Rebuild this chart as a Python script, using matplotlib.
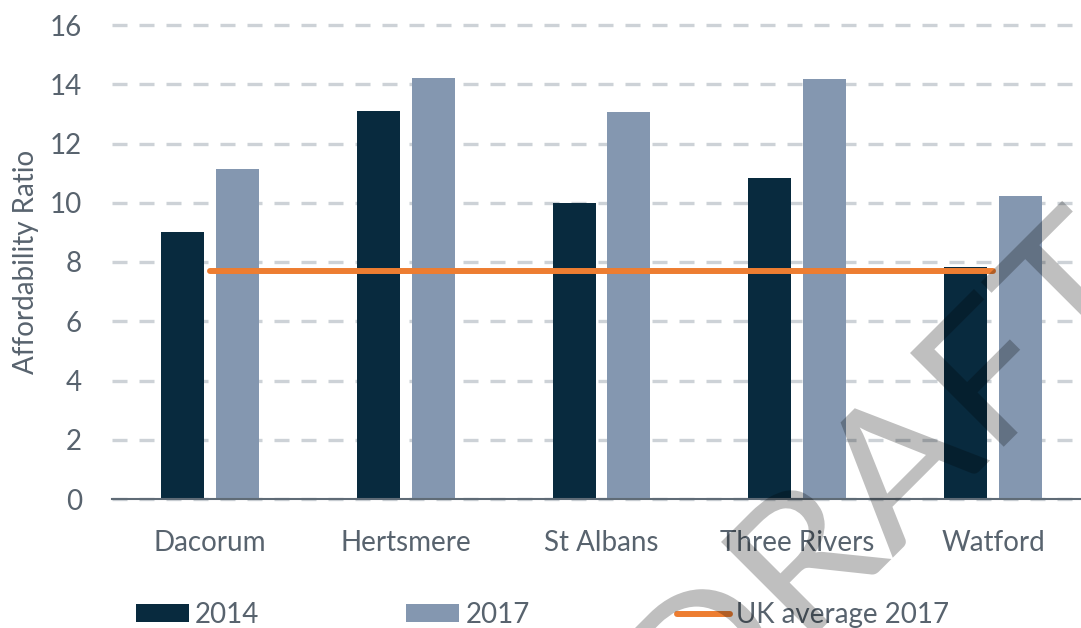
import matplotlib
matplotlib.use("Agg")
import numpy as np
import matplotlib.pyplot as plt
from matplotlib.patches import Patch, PathPatch
from matplotlib.lines import Line2D
from matplotlib.textpath import TextPath, TextToPath
from matplotlib.font_manager import FontProperties
from matplotlib.transforms import Affine2D

# data
districts = ["Dacorum", "Hertsmere", "St Albans", "Three Rivers", "Watford"]
ratio_2014 = [9.0, 13.1, 10.0, 10.85, 7.83]
ratio_2017 = [11.15, 14.22, 13.06, 14.18, 10.24]
uk_avg_2017 = [7.7, 7.7, 7.7, 7.7, 7.7]
yticks = [0, 2, 4, 6, 8, 10, 12, 14, 16]
series_names = ["2014", "2017", "UK average 2017"]

plt.rcParams["font.family"] = ["Lato", "DejaVu Sans"]

TXT = "#58636E"
DARK = "#082A3E"
LIGHT = "#8497B0"
ORANGE = "#ED7D31"
GRID = "#CDD2D7"

W, H = 1081, 628
fig = plt.figure(figsize=(W / 100, H / 100), dpi=100)
ax = fig.add_axes([112 / W, 129 / H, 979 / W, 474 / H])

x = np.arange(len(districts))
ax.bar(x - 0.14, ratio_2014, 0.22, color=DARK, zorder=2)
ax.bar(x + 0.14, ratio_2017, 0.22, color=LIGHT, zorder=2)
ax.plot(x, uk_avg_2017, color=ORANGE, lw=4.3, solid_capstyle="round", zorder=3)

ax.set_xlim(-0.5, 4.5)
ax.set_ylim(0, 16)
ax.set_yticks(yticks)
ax.set_xticks(x, districts)
ax.tick_params(axis="both", length=0, labelsize=20, labelcolor=TXT)
ax.tick_params(axis="y", pad=21.6)
ax.tick_params(axis="x", pad=22)
for s in ["top", "right", "left"]:
    ax.spines[s].set_visible(False)
ax.spines["bottom"].set_color("#5F6B76")
ax.spines["bottom"].set_linewidth(1.5)
ax.spines["bottom"].set_zorder(4)

ax.yaxis.grid(True, color=GRID, lw=2.4, linestyle=(0, (4.5, 3.6)))
ax.set_axisbelow(True)
for gl in ax.get_ygridlines():
    gl.set_clip_on(False)

ax.set_ylabel("Affordability Ratio", fontsize=20, color=TXT)
ax.yaxis.set_label_coords(-0.088, 0.5)
ax.yaxis.label.set_va("center")

handles = [Patch(facecolor=DARK), Patch(facecolor=LIGHT),
           Line2D([], [], color=ORANGE, lw=4.3, solid_capstyle="round")]
fig.legend(handles, series_names, ncol=3, loc="center left",
           bbox_to_anchor=(136 / W, 13 / H), frameon=False, fontsize=20,
           handlelength=1.9, handleheight=0.62, handletextpad=0.22,
           columnspacing=5.3, borderpad=0, borderaxespad=0, labelcolor=TXT)

# DRAFT watermark, anchored on the top-left corner of the "F"
fp = FontProperties(family="Lato", size=100)
tp = TextPath((0, 0), "DRAFT", size=100, prop=fp)
w_dra, _, _ = TextToPath().get_text_width_height_descent("DRA", fp, ismath=False)
fbb = TextPath((0, 0), "F", size=100, prop=fp).get_extents()
ax0, ay0 = w_dra + fbb.x0, fbb.y1
tr = (Affine2D().translate(-ax0, -ay0)
      .scale(205 / 100, 185 / 100).rotate_deg(45).translate(910, H - 353))
fig.add_artist(PathPatch(tp, transform=tr, facecolor="black", edgecolor="none",
                         alpha=0.25, zorder=10))

fig.savefig("out.png", dpi=100)
